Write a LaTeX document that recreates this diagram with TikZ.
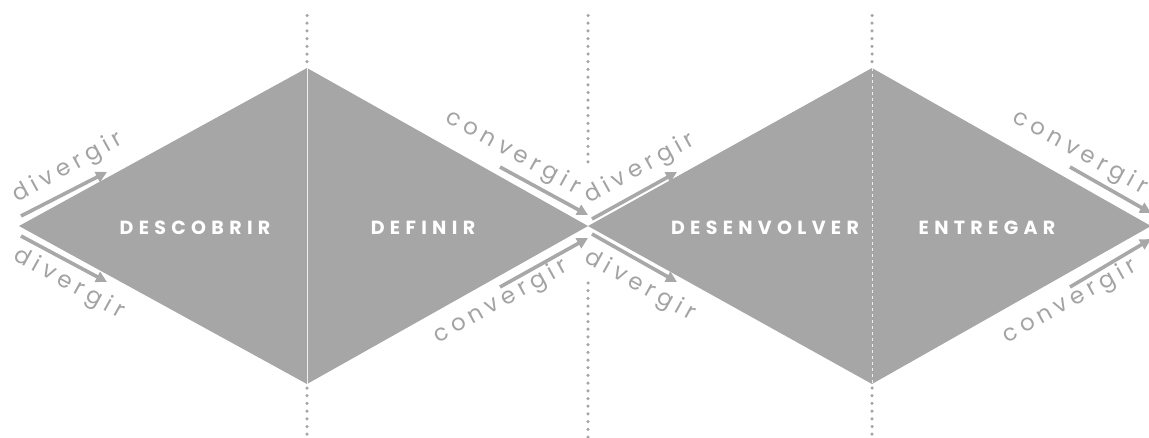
\documentclass[tikz,border=0pt]{standalone}
\usepackage{fontspec}
\setmainfont{Poppins}
\newfontfamily\capfont[LetterSpace=28]{Poppins}
\newfontfamily\lowfont[LetterSpace=22]{Poppins}
\usetikzlibrary{arrows.meta}
\definecolor{dia}{HTML}{A6A6A6}
\definecolor{arrc}{HTML}{A8A8A8}
\definecolor{txtc}{HTML}{A3A3A3}
\definecolor{dotc}{HTML}{A6A6A6}
\tikzset{
  phase/.style={text=white,font=\capfont\bfseries\fontsize{19}{19}\selectfont,inner sep=0pt},
  flowlbl/.style={text=txtc,font=\lowfont\fontsize{23}{23}\selectfont,inner sep=0pt},
  flowarr/.style={draw=arrc,line width=3.6pt,-{Triangle[length=11pt,width=11pt]},shorten >=0pt},
  dotline/.style={draw=dotc,line width=3.5pt,line cap=round,dash pattern=on 0pt off 7.7pt},
  midline/.style={draw=white!82!dia,line width=0.9pt}
}
\begin{document}
\begin{tikzpicture}[x=1pt,y=-1pt]
\useasboundingbox (0,0) rectangle (1149,437);
% diamond corners
\coordinate (L1) at (19,226);
\coordinate (T1) at (307,68);
\coordinate (B1) at (307,384);
\coordinate (M) at (588,226);
\coordinate (T2) at (872,68);
\coordinate (B2) at (872,384);
\coordinate (R2) at (1151,226);
\fill[dia] (L1) -- (T1) -- (M) -- (B1) -- cycle;
\fill[dia] (M) -- (T2) -- (R2) -- (B2) -- cycle;
\draw[midline] (T1) -- (B1);
\draw[midline,dashed] (T2) -- (B2);
% dotted guides
\coordinate (g1a) at (307,15.5); \coordinate (g1b) at (307,62.5);
\coordinate (g1c) at (307,388); \coordinate (g1d) at (307,437);
\coordinate (g2a) at (588,15.5); \coordinate (g2b) at (588,163);
\coordinate (g2c) at (588,283); \coordinate (g2d) at (588,437);
\coordinate (g3a) at (872,15.5); \coordinate (g3b) at (872,62.5);
\coordinate (g3c) at (872,388); \coordinate (g3d) at (872,437);
\draw[dotline] (g1a) -- (g1b);
\draw[dotline] (g1c) -- (g1d);
\draw[dotline] (g2a) -- (g2b);
\draw[dotline] (g2c) -- (g2d);
\draw[dotline] (g3a) -- (g3b);
\draw[dotline] (g3c) -- (g3d);
% phase labels
\node[phase] (descobrir) at (195,228) {DESCOBRIR};
\node[phase] (definir) at (423,228) {DEFINIR};
\node[phase] (desenvolver) at (765,228) {DESENVOLVER};
\node[phase] (entregar) at (987,228) {ENTREGAR};
% arrows
\coordinate (a1s) at (21,216); \coordinate (a1e) at (107,172);
\coordinate (a2s) at (21,236); \coordinate (a2e) at (107,282);
\coordinate (a3s) at (500,167); \coordinate (a3e) at (588,215);
\coordinate (a4s) at (500,287); \coordinate (a4e) at (588,238);
\coordinate (a5s) at (592,219); \coordinate (a5e) at (677,172);
\coordinate (a6s) at (592,234); \coordinate (a6e) at (677,282);
\coordinate (a7s) at (1070,167); \coordinate (a7e) at (1151,213);
\coordinate (a8s) at (1070,287); \coordinate (a8e) at (1151,239);
\draw[flowarr] (a1s) -- (a1e);
\draw[flowarr] (a2s) -- (a2e);
\draw[flowarr] (a3s) -- (a3e);
\draw[flowarr] (a4s) -- (a4e);
\draw[flowarr] (a5s) -- (a5e);
\draw[flowarr] (a6s) -- (a6e);
\draw[flowarr] (a7s) -- (a7e);
\draw[flowarr] (a8s) -- (a8e);
% flow labels
\node[flowlbl,rotate=29] (d1) at (68,168) {divergir};
\node[flowlbl,rotate=-29] (d2) at (69,284) {divergir};
\node[flowlbl,rotate=-29] (c1) at (513,153) {convergir};
\node[flowlbl,rotate=29] (c2) at (501,302) {convergir};
\node[flowlbl,rotate=29] (d3) at (640,169) {divergir};
\node[flowlbl,rotate=-29] (d4) at (640,286) {divergir};
\node[flowlbl,rotate=-29] (c3) at (1080,153) {convergir};
\node[flowlbl,rotate=29] (c4) at (1070,302) {convergir};
\end{tikzpicture}
\end{document}
